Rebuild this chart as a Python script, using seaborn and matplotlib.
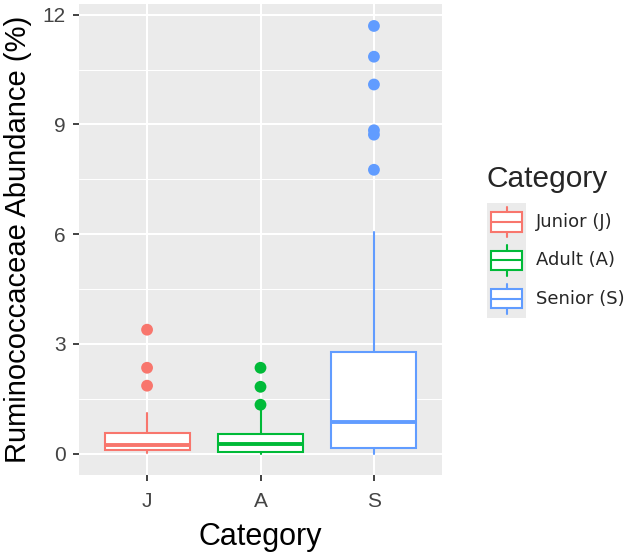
import numpy as np
import pandas as pd
import matplotlib
matplotlib.use("Agg")
import matplotlib.pyplot as plt
import seaborn as sns

# values (percent)
categories = ["J", "A", "S"]
labels = ["Junior (J)", "Adult (A)", "Senior (S)"]
colors = ["#F8766D", "#00BA38", "#619CFF"]

whisker_low = [0.03, 0.0, 0.0]
q1 = [0.11, 0.05, 0.17]
median = [0.25, 0.27, 0.86]
q3 = [0.57, 0.55, 2.79]
whisker_high = [1.12, 1.20, 6.05]

outliers_J = [3.39, 2.35, 1.86]
outliers_A = [2.35, 1.83, 1.34]
outliers_S = [11.69, 10.85, 10.09, 8.84, 8.72, 7.76]

sns.set_theme(style="darkgrid", rc={
    "axes.facecolor": "#EBEBEB",
    "grid.color": "white",
    "axes.edgecolor": "#EBEBEB",
})
plt.rcParams['font.family'] = ['Liberation Sans', 'DejaVu Sans']

fig = plt.figure(figsize=(6.24, 5.52), dpi=100)
ax = fig.add_axes([79/624, 1-475/552, 363/624, 471/552])

stats = []
for i in range(len(categories)):
    stats.append({"whislo": whisker_low[i], "q1": q1[i], "med": median[i],
                  "q3": q3[i], "whishi": whisker_high[i], "fliers": []})

bp = ax.bxp(stats, positions=range(len(categories)), widths=0.75, showfliers=False,
            patch_artist=True, showcaps=False, manage_ticks=False)
for i, c in enumerate(colors):
    bp["boxes"][i].set(facecolor="white", edgecolor=c, linewidth=1.5, zorder=3)
    bp["medians"][i].set(color=c, linewidth=2.8, zorder=4, solid_capstyle="butt")
    for w in bp["whiskers"][2*i:2*i+2]:
        w.set(color=c, linewidth=1.5, zorder=2)

out = pd.DataFrame({
    "Category": ["J"]*len(outliers_J) + ["A"]*len(outliers_A) + ["S"]*len(outliers_S),
    "value": outliers_J + outliers_A + outliers_S,
})
sns.stripplot(data=out, x="Category", y="value", hue="Category", order=categories,
              hue_order=categories, palette=colors, jitter=False, size=8.5,
              linewidth=0, legend=False, ax=ax, zorder=5)

ax.set_xlim(-0.6, 2.6)
ax.set_ylim(-0.58, 12.29)
ax.set_xticks(range(len(categories)))
ax.set_xticklabels(categories)
ax.set_yticks([0, 3, 6, 9, 12])
ax.set_yticks([1.5, 4.5, 7.5, 10.5], minor=True)
ax.grid(which="major", color="white", linewidth=1.5)
ax.grid(which="minor", axis="y", color="white", linewidth=0.75)
ax.set_axisbelow(True)
ax.tick_params(axis="both", which="major", length=4.5, width=1.3, color="#333333",
               labelsize=15, labelcolor="#444444", bottom=True, left=True)
ax.tick_params(axis="y", which="major", pad=5)
ax.tick_params(axis="x", which="major", pad=8)
ax.tick_params(axis="both", which="minor", length=0)
for s in ax.spines.values():
    s.set_visible(False)
ax.set_xlabel("Category", fontsize=22, color="black", labelpad=8)
ax.set_ylabel("Ruminococcaceae Abundance (%)", fontsize=21, color="black", labelpad=8)

# legend drawn as ggplot-style keys
fig.text(487/624, 1-179/552, "Category", fontsize=21.5, va="center", ha="left")
key_h = 38.3
for i, (lab, c) in enumerate(zip(labels, colors)):
    top = 203 + i*key_h
    kax = fig.add_axes([487/624, 1-(top+key_h)/552, 39/624, key_h/552])
    kax.set_facecolor("#EBEBEB")
    kax.grid(False)
    kb = kax.bxp([{"whislo": 0, "q1": 0.18, "med": 0.5, "q3": 0.82, "whishi": 1,
                   "fliers": []}], positions=[1], widths=0.82, showcaps=False,
                 showfliers=False, patch_artist=True, manage_ticks=False)
    kb["boxes"][0].set(facecolor="white", edgecolor=c, linewidth=1.5)
    kb["medians"][0].set(color=c, linewidth=1.5)
    for w in kb["whiskers"]:
        w.set(color=c, linewidth=1.5)
    kax.set_xlim(0.5, 1.5)
    kax.set_ylim(-0.133, 1.133)
    kax.set_xticks([])
    kax.set_yticks([])
    for s in kax.spines.values():
        s.set_visible(False)
    fig.text(536/624, 1-(top+key_h/2)/552, lab, fontsize=13, va="center", ha="left",
             family=["DejaVu Sans"])

fig.savefig("out.png", dpi=100)
